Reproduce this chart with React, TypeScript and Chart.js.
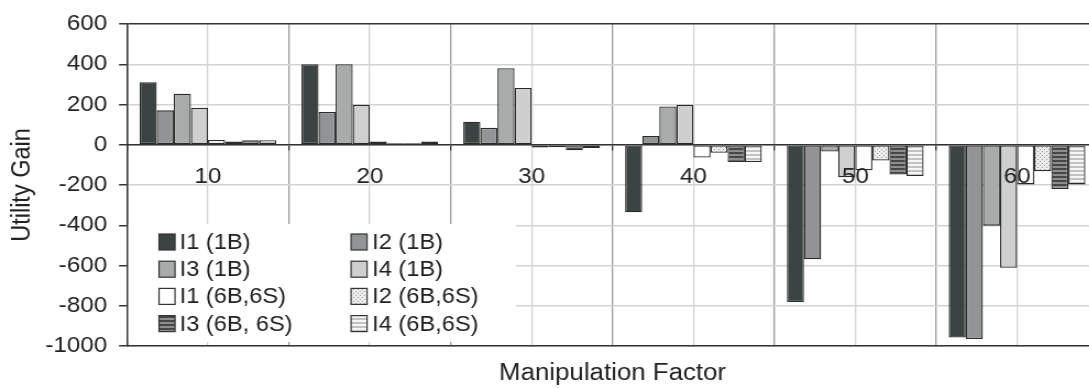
import React, { useEffect, useRef } from "react";
import { Chart, registerables } from "chart.js";

Chart.register(...registerables);

// ---------- data ----------
const categories = ["10", "20", "30", "40", "50", "60"];
const seriesNames = [
  "I1 (1B)",
  "I2 (1B)",
  "I3 (1B)",
  "I4 (1B)",
  "I1 (6B,6S)",
  "I2 (6B,6S)",
  "I3 (6B, 6S)",
  "I4 (6B,6S)",
];
const i1_1B = [310, 400, 114, -336, -781, -958];
const i2_1B = [171, 163, 84, 43, -569, -965];
const i3_1B = [254, 400, 380, 190, -34, -402];
const i4_1B = [184, 199, 282, 199, -161, -611];
const i1_6B6S = [24, 16, -14, -63, -127, -197];
const i2_6B6S = [16, 7, -12, -40, -78, -132];
const i3_6B6S = [22, 7, -27, -86, -148, -220];
const i4_6B6S = [22, 16, -16, -86, -155, -197];
const seriesValues = [i1_1B, i2_1B, i3_1B, i4_1B, i1_6B6S, i2_6B6S, i3_6B6S, i4_6B6S];
const yMin = -1000;
const yMax = 600;
const yStep = 200;
const xTitle = "Manipulation Factor";
const yTitle = "Utility Gain";

// ---------- styling ----------
const FONT = "'Liberation Sans', Arial, Helvetica, sans-serif";
const STRETCH = 1.1; // reference is horizontally stretched
const CW = 998;
const CH = 388;
const sx = (px: number) => px / STRETCH;

function makePattern(kind: string): CanvasPattern | string {
  const c = document.createElement("canvas");
  const g = c.getContext("2d");
  if (!g) return "#ccc";
  if (kind === "dots") {
    c.width = 4;
    c.height = 4;
    g.fillStyle = "#ececec";
    g.fillRect(0, 0, 4, 4);
    g.fillStyle = "#9c9c9c";
    g.fillRect(1, 1, 1, 1);
    g.fillRect(3, 3, 1, 1);
  } else if (kind === "darkStripes") {
    c.width = 4;
    c.height = 4;
    g.fillStyle = "#474747";
    g.fillRect(0, 0, 4, 4);
    g.fillStyle = "#8e8e8e";
    g.fillRect(0, 2, 4, 2);
  } else {
    c.width = 4;
    c.height = 4;
    g.fillStyle = "#f6f6f6";
    g.fillRect(0, 0, 4, 4);
    g.fillStyle = "#c2c2c2";
    g.fillRect(0, 2, 4, 2);
  }
  const p = g.createPattern(c, "repeat");
  return p || "#ccc";
}

const legendPlugin = {
  id: "boxLegend",
  afterDraw(chart: any) {
    const ctx = chart.ctx as CanvasRenderingContext2D;
    ctx.save();
    ctx.fillStyle = "#ffffff";
    ctx.fillRect(sx(128.5), 224, sx(516) - sx(128.5), 342 - 224);
    ctx.font = `21.5px ${FONT}`;
    ctx.textBaseline = "middle";
    ctx.textAlign = "left";
    chart.data.datasets.forEach((ds: any, i: number) => {
      const col = i % 2;
      const row = Math.floor(i / 2);
      const cy = 242 + row * 27.2;
      const bx = sx(col ? 351 : 159);
      const bw = sx(16);
      const bh = 16;
      ctx.fillStyle = ds.backgroundColor;
      ctx.fillRect(bx, cy - bh / 2, bw, bh);
      ctx.strokeStyle = "#333";
      ctx.lineWidth = 1.2;
      ctx.strokeRect(bx, cy - bh / 2, bw, bh);
      ctx.fillStyle = "#222";
      ctx.fillText(ds.label, sx(col ? 372 : 179.5), cy + 1);
    });
    ctx.restore();
  },
};

export default function App() {
  const ref = useRef<HTMLCanvasElement | null>(null);

  useEffect(() => {
    if (!ref.current) return;
    Chart.defaults.font.family = FONT;
    const fills = [
      "#3b4442",
      "#929394",
      "#a9aaaa",
      "#cfcfcf",
      "#ffffff",
      makePattern("dots"),
      makePattern("darkStripes"),
      makePattern("lightStripes"),
    ];
    const datasets = seriesNames.map((name, i) => ({
      label: name,
      data: seriesValues[i],
      backgroundColor: fills[i],
      borderColor: "#2b2b2b",
      borderWidth: 1.3,
      borderSkipped: false as any,
      categoryPercentage: 0.845,
      barPercentage: 1.0,
    }));

    const chart = new Chart(ref.current, {
      type: "bar",
      data: { labels: categories, datasets: datasets as any },
      plugins: [legendPlugin as any],
      options: {
        animation: false,
        responsive: false,
        devicePixelRatio: 1,
        layout: { padding: { top: 20, left: 0, right: 0, bottom: 0 } },
        plugins: {
          legend: { display: false },
          tooltip: { enabled: false },
          title: { display: false },
        },
        scales: {
          x: {
            type: "category",
            position: "bottom",
            offset: true,
            grid: {
              offset: false,
              color: "#d3d3d3",
              lineWidth: 1.3,
              drawTicks: false,
            },
            border: { display: true, color: "#333", width: 1.5 },
            ticks: { display: false },
            title: {
              display: true,
              text: xTitle,
              color: "#222",
              font: { size: 23.5, family: FONT },
              padding: { top: 0, bottom: 0 },
            },
            afterFit: (scale: any) => {
              scale.height = 42;
            },
          },
          x2: {
            type: "category",
            labels: categories,
            position: { y: 0 } as any,
            offset: true,
            grid: {
              offset: true,
              color: "#9a9a9a",
              lineWidth: 1.3,
              drawTicks: true,
              tickLength: 5,
              tickColor: "#333",
            },
            border: { display: true, color: "#333", width: 1.5, z: 1 } as any,
            ticks: {
              color: "#222",
              font: { size: 22, family: FONT },
              padding: 14,
              maxRotation: 0,
              autoSkip: false,
              z: 1,
            },
          },
          y: {
            type: "linear",
            position: "left",
            min: yMin,
            max: yMax,
            ticks: {
              stepSize: yStep,
              color: "#222",
              font: { size: 22, family: FONT },
              padding: 10.8,
              callback: (v: any) => String(v),
            },
            grid: {
              color: (c: any) => (c.tick && c.tick.value === yMax ? "#333" : "#d3d3d3"),
              lineWidth: 1.5,
              drawTicks: true,
              tickLength: 7.3,
              tickColor: "#333",
            },
            border: { display: true, color: "#333", width: 1.5 },
            title: {
              display: true,
              text: yTitle,
              color: "#222",
              font: { size: 23.5, family: FONT },
              padding: { top: 6.5, bottom: 0 },
            },
            afterFit: (scale: any) => {
              scale.width = 115.5;
            },
          },
        },
      } as any,
    });
    return () => chart.destroy();
  }, []);

  return (
    <div
      style={{
        position: "fixed",
        left: 0,
        top: 0,
        width: 1089,
        height: 388,
        overflow: "hidden",
        background: "#fff",
      }}
    >
      <canvas
        ref={ref}
        width={CW}
        height={CH}
        style={{ width: `${CW * STRETCH}px`, height: `${CH}px`, display: "block" }}
      />
    </div>
  );
}
